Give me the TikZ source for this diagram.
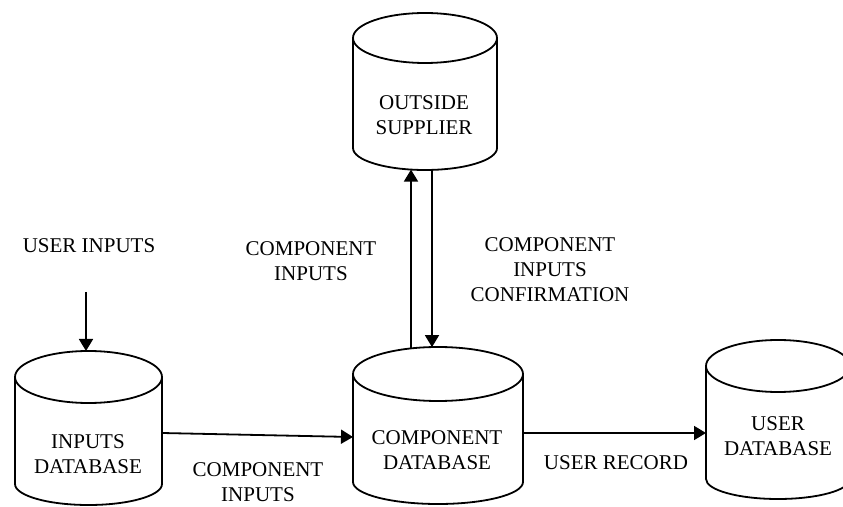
\documentclass[tikz,border=0pt]{standalone}
\usepackage{fontspec}
\setmainfont{Liberation Serif}
\usetikzlibrary{arrows.meta,calc}

% outline of a database drum around a named body node:
% #1 node, #2 horizontal radius, #3 top rim radius, #4 bottom rim radius
\newcommand\drumoutline[4]{%
  \draw[dbline] (#1.north west) -- (#1.south west)
    arc[start angle=180, end angle=360, x radius=#2, y radius=#4]
    -- (#1.north east);
  \draw[dbline] (#1.north) ellipse[x radius=#2, y radius=#3];
}

\begin{document}
\begin{tikzpicture}[x=1pt, y=1pt,
  dbline/.style={line width=1.8pt},
  drumbody/.style={rectangle, inner sep=0pt, outer sep=0pt},
  lbl/.style={align=center, inner sep=0pt, font=\fontsize{21}{25}\selectfont},
  flow/.style={line width=1.8pt, -{Triangle[length=12pt, width=14pt]}}]

\useasboundingbox (0,0) rectangle (843,506);
\clip (0,0) rectangle (843,506);

% database bodies (between the centres of top and bottom rims)
\node[drumbody, minimum width=144pt, minimum height=110pt] (os) at (425,413) {};
\node[drumbody, minimum width=147pt, minimum height=107pt] (in) at (88.5,75.5) {};
\node[drumbody, minimum width=170pt, minimum height=108pt] (cd) at (438,78) {};
\node[drumbody, minimum width=144pt, minimum height=113pt] (ud) at (778,83.5) {};

\drumoutline{os}{72pt}{25pt}{22pt}
\drumoutline{in}{73.5pt}{26pt}{21pt}
\drumoutline{cd}{85pt}{27pt}{22pt}
\drumoutline{ud}{72pt}{26pt}{20pt}

% texts inside the drums
\node[lbl] (ost) at (424,390.5) {OUTSIDE\\SUPPLIER};
\node[lbl] (int) at (88,52) {INPUTS\\DATABASE};
\node[lbl] (cdt) at (437,56) {COMPONENT\\DATABASE};
\node[lbl] (udt) at (778,70) {USER\\DATABASE};

% flow labels
\node[lbl] (uin) at (89,260) {USER INPUTS};
\node[lbl] (ciup) at (311,245) {COMPONENT\\INPUTS};
\node[lbl] (cic) at (550,236) {COMPONENT\\INPUTS\\CONFIRMATION};
\node[lbl] (cilow) at (258,24) {COMPONENT\\INPUTS};
\node[lbl] (urec) at (616,43) {USER RECORD};

% connector end points on the drum rims
\coordinate (uistart) at (86,214);
\coordinate (intop) at ($(in.north)+(-2.5pt,26pt)$);
\coordinate (cdrimA) at ($(cd.north)+(-27pt,25.6pt)$);
\coordinate (osrimA) at ($(os.south)+(-14pt,-21.6pt)$);
\coordinate (osrimB) at ($(os.south)+(7pt,-21.9pt)$);
\coordinate (cdrimB) at ($(cd.north)+(-6pt,26.9pt)$);
\coordinate (inside) at ($(in.east)+(0,-2.5pt)$);
\coordinate (cdleft) at ($(cd.west)+(0,-9pt)$);
\coordinate (cdright) at ($(cd.east)+(0,-5pt)$);
\coordinate (udleft) at ($(ud.west)+(0,-10.5pt)$);

% connectors
\draw[flow] (uistart) -- (intop);
\draw[flow] (cdrimA) -- (osrimA);
\draw[flow] (osrimB) -- (cdrimB);
\draw[flow] (inside) -- (cdleft);
\draw[flow] (cdright) -- (udleft);
\end{tikzpicture}
\end{document}
